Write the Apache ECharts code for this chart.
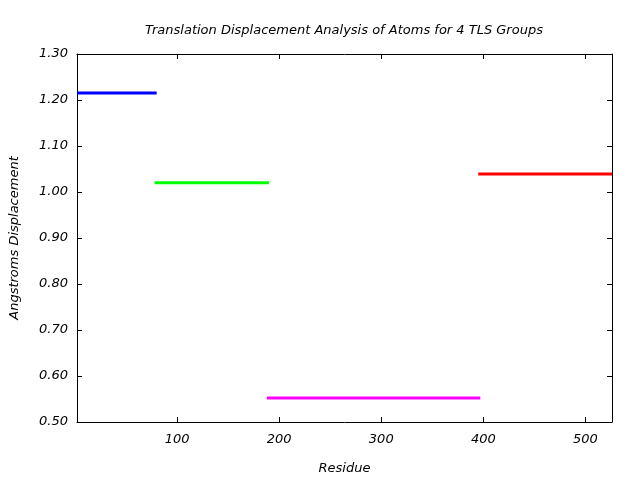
<!DOCTYPE html>
<html>
<head>
<meta charset="utf-8">
<script src="https://cdn.jsdelivr.net/npm/echarts@6/dist/echarts.min.js"></script>
<style>
html,body{margin:0;padding:0;background:#fff;}
#chart{width:640px;height:480px;}
</style>
</head>
<body>
<div id="chart"></div>
<script>
var groupNames = ['TLS Group 1', 'TLS Group 2', 'TLS Group 3', 'TLS Group 4'];
var groupStart = [2, 78, 188, 395];
var groupEnd = [80, 190, 397, 526];
var displacement = [1.215, 1.020, 0.552, 1.039];
var groupColors = ['#0000ff', '#00ff00', '#ff00ff', '#ff0000'];
var xTicks = [100, 200, 300, 400, 500];

var FONT = 'DejaVu Sans';
var FS = 13;
var series = groupNames.map(function (name, i) {
  return {
    name: name,
    type: 'line',
    showSymbol: false,
    symbol: 'none',
    silent: true,
    animation: false,
    lineStyle: { color: groupColors[i], width: 3, cap: 'butt' },
    data: [[groupStart[i], displacement[i]], [groupEnd[i], displacement[i]]]
  };
});

var axisLineStyle = { show: true, lineStyle: { color: '#000', width: 1 } };
var chart = echarts.init(document.getElementById('chart'), null, { renderer: 'canvas' });
chart.setOption({
  animation: false,
  backgroundColor: '#fff',
  title: {
    text: 'Translation Displacement Analysis of Atoms for 4 TLS Groups',
    left: 339, textAlign: 'center', top: 19,
    textStyle: { fontFamily: FONT, fontStyle: 'italic', fontWeight: 'normal', fontSize: FS, color: '#000' }
  },
  grid: { left: 76, right: 28, top: 54, bottom: 58, containLabel: false },
  xAxis: [{
    type: 'value', min: 2, max: 526,
    name: 'Residue', nameLocation: 'middle', nameGap: 40,
    nameTextStyle: { fontFamily: FONT, fontStyle: 'italic', fontSize: FS, color: '#000' },
    axisLine: axisLineStyle,
    axisTick: { show: true, inside: true, length: 5, customValues: xTicks, lineStyle: { color: '#000' } },
    axisLabel: { customValues: xTicks, margin: 11, fontFamily: FONT, fontStyle: 'italic', fontSize: FS, color: '#000' },
    splitLine: { show: false }
  }, {
    type: 'value', min: 2, max: 526, position: 'top',
    axisLine: axisLineStyle,
    axisTick: { show: true, inside: true, length: 5, customValues: xTicks, lineStyle: { color: '#000' } },
    axisLabel: { show: false },
    splitLine: { show: false }
  }],
  yAxis: [{
    type: 'value', min: 0.5, max: 1.3, interval: 0.1,
    name: 'Angstroms Displacement', nameLocation: 'middle', nameGap: 56, nameRotate: 90,
    nameTextStyle: { fontFamily: FONT, fontStyle: 'italic', fontSize: FS, color: '#000' },
    axisLine: axisLineStyle,
    axisTick: { show: true, inside: true, length: 5, lineStyle: { color: '#000' } },
    axisLabel: { margin: 9, fontFamily: FONT, fontStyle: 'italic', fontSize: FS, color: '#000',
      formatter: function (v) { return v.toFixed(2); } },
    splitLine: { show: false }
  }, {
    type: 'value', min: 0.5, max: 1.3, interval: 0.1, position: 'right',
    axisLine: axisLineStyle,
    axisTick: { show: true, inside: true, length: 5, lineStyle: { color: '#000' } },
    axisLabel: { show: false },
    splitLine: { show: false }
  }],
  series: series
});
</script>
</body>
</html>
